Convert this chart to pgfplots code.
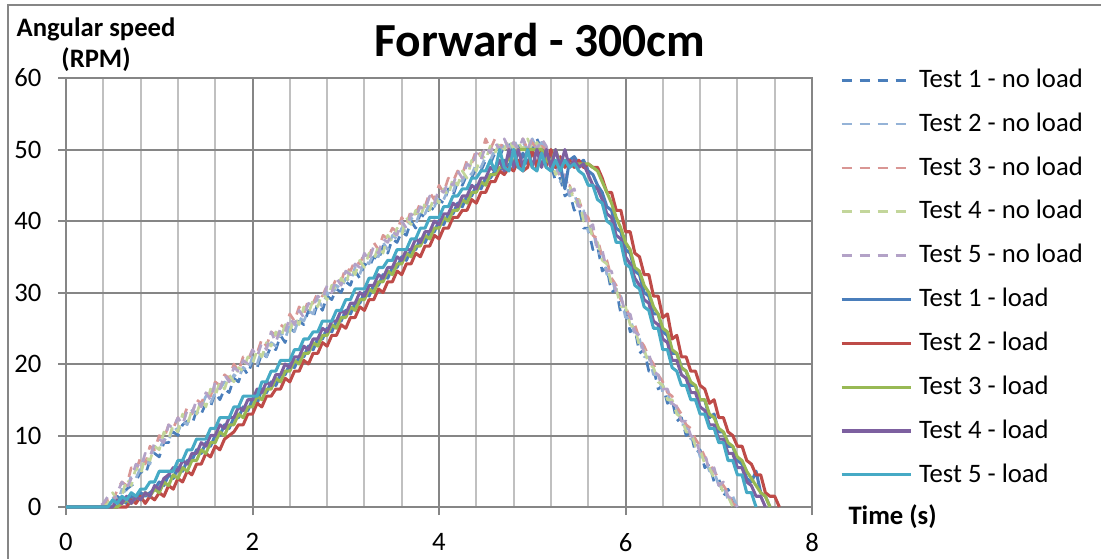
\documentclass[border=0pt]{standalone}
\usepackage{fontspec}
\setmainfont{Carlito}
\usepackage{pgfplots}
\usepackage{pgfplotstable}
\pgfplotsset{compat=1.18}

\definecolor{nlA}{HTML}{4A7EBB}
\definecolor{nlB}{HTML}{95B3D7}
\definecolor{nlC}{HTML}{D99694}
\definecolor{nlD}{HTML}{C3D69B}
\definecolor{nlE}{HTML}{B3A2C7}
\definecolor{ldA}{HTML}{4A7EBB}
\definecolor{ldB}{HTML}{BE4B48}
\definecolor{ldC}{HTML}{98B954}
\definecolor{ldD}{HTML}{7D60A0}
\definecolor{ldE}{HTML}{46AAC5}
\definecolor{gridmaj}{HTML}{868686}
\definecolor{gridmin}{HTML}{C0C0C0}

% Angular speed (RPM) against time (s), runs without load
\pgfplotstableread{
t n1 n2 n3 n4 n5
0 0 0 0 0 0
0.35 0 0 0 0 0
0.40 0 0 0 0 0.5
0.45 0 0 1 0.5 1.5
0.50 0.5 1.5 0.5 2 0.5
0.55 1.5 0.5 2.5 1 2
0.60 1 2.5 3.5 1.5 3.5
0.65 2.5 2 3 4 2.5
0.70 3 4.5 5.5 3 4
0.75 3.5 4 5 5.5 6
0.80 5 5.5 7 4.5 5.5
0.85 4.5 6.5 6 7 7.5
0.90 6.5 6 8.5 6.5 7
0.95 7.5 8.5 8 8.5 9
1.00 7 8 10 8 9.5
1.05 9 9.5 9.5 10.5 9
1.10 9 9 11.5 9.5 11.5
1.15 10.5 11.5 11 11.5 11
1.20 10 10.5 12.5 10.5 12.5
1.25 11.5 12 12 13 11.5
1.30 12 11.5 14 11.5 13.5
1.35 11.5 13.5 13 13.5 13
1.40 13.5 13 15 13 15
1.45 13 14 14.5 15 14
1.50 14.5 15.5 16 14 16
1.55 14 14.5 15.5 16.5 15
1.60 16 16 17.5 15.5 17.5
1.65 15 16.5 17 17.5 16.5
1.70 16.5 17.5 18.5 16.5 18.5
1.75 16 17 18 18.5 17.5
1.80 18 18.5 20 17.5 19.5
1.85 17.5 18 19 19.5 19
1.90 19.5 19.5 21 19 20.5
1.95 18.5 19 20.5 21 20
2.00 20.5 21 22 20 22
2.05 19.5 20 21.5 22 21
2.10 21.5 22 23.5 21 23
2.15 21 21 22.5 23 22
2.20 22.5 23 24.5 22.5 24.5
2.25 22 22.5 24 24.5 23
2.30 24 24.5 25.5 23.5 25
2.35 23 23.5 25 25.5 24.5
2.40 25 25.5 27 24.5 26.5
2.45 24.5 24.5 26 26.5 25.5
2.50 26 26.5 28 25.5 27.5
2.55 25.5 26 27 28 26.5
2.60 27.5 27.5 29 27 28.5
2.65 26.5 27 28.5 29 28
2.70 28.5 29 30 28 29.5
2.75 27.5 28 29.5 30 29
2.80 29.5 30 31 29 31
2.85 29 29.5 30.5 31 30
2.90 30.5 31 32 30.5 32
2.95 30 30.5 31.5 32 31
3.00 31.5 32 33.5 31 33
3.05 31 31.5 33 33.5 32.5
3.10 33 33.5 34.5 32.5 34
3.15 32 32.5 34 34.5 33.5
3.20 34 34.5 35.5 33.5 35.5
3.25 33.5 34 35 35.5 34.5
3.30 35 35.5 37 34.5 36.5
3.35 34.5 35 36 36.5 35.5
3.40 36.5 37 38 35.5 37.5
3.45 35.5 36 37.5 38 37
3.50 37.5 38 39 37 38.5
3.55 37 37.5 38.5 39 38
3.60 38.5 39 40.5 38 40
3.65 38 38.5 39.5 40.5 39
3.70 40 40.5 41.5 39.5 41
3.75 39 39.5 41 41.5 40.5
3.80 41 41.5 42.5 40.5 42
3.85 40.5 41 42 42.5 41.5
3.90 42 42.5 44 41.5 43.5
3.95 41.5 42 43 43.5 42.5
4.00 43 43.5 45 42.5 44.5
4.05 42.5 43 44 44.5 44
4.10 44.5 44.5 46 43.5 45.5
4.15 43.5 44 45.5 46 45
4.20 45.5 46 47 45 47
4.25 45 45.5 46.5 47 46
4.30 46.5 47 48.5 46 48
4.35 46 46.5 48 48.5 47.5
4.40 47.5 48 50 47 49.5
4.45 47 47.5 49 49.5 48.5
4.50 48.5 49 51.5 48.5 50.5
4.55 48 48.5 50 50.5 49.5
4.60 49.5 50 51.5 49.5 51
4.65 49 49.5 50 51 50
4.70 50.5 51 51.5 50 51.5
4.75 51 50 50 51.5 50
4.80 49.5 51.5 51 50 51
4.85 50.5 50 50 51 50
4.90 50 51 51.5 50 51.5
4.95 51 50 50 51.5 50
5.00 50 51.5 51 50 51.5
5.05 51.5 50 50 51 50
5.10 50 51 50.5 50 51.5
5.15 48 50 50 49 50.5
5.20 48 47.5 49 48.5 48
5.25 45.5 48 47 46.5 48.5
5.30 46 45.5 47 47 46
5.35 43.5 46 45 44.5 46.5
5.40 44 43.5 45 45 44
5.45 41.5 44 43 42.5 44.5
5.50 42 41.5 43 43 42
5.55 39 41.5 41 40 42
5.60 39 38.5 40.5 40 39
5.65 36 39 38 37.5 39.5
5.70 36.5 35.5 37.5 37 36
5.75 33 35.5 35 34.5 36
5.80 33.5 32.5 34.5 34 33
5.85 30 32.5 32 31 33
5.90 30.5 29.5 31 30.5 30
5.95 27 29.5 29 28 29.5
6.00 27.5 26.5 28 28 27
6.05 24.5 26.5 26.5 25.5 27
6.10 25 24 25.5 25 24.5
6.15 21.5 23.5 23.5 22.5 24
6.20 22 21 22.5 22 21.5
6.25 19 21 21 20 21.5
6.30 19.5 18.5 20 19.5 19
6.35 16.5 18.5 18.5 17.5 18.5
6.40 17 16 17.5 17 16.5
6.45 14.5 16 16 15 16.5
6.50 15 14 15.5 15 14.5
6.55 12 14 14 13 14
6.60 12.5 11.5 13 12.5 12
6.65 10 11.5 11.5 10.5 12
6.70 10.5 9.5 11 10.5 10
6.75 7.5 9.5 9.5 8.5 9.5
6.80 8 7 8.5 8 7.5
6.85 5.5 7 7 6 7.5
6.90 6 5 6 5.5 5
6.95 3.5 5 5 4 5.5
7.00 4 3 4 3.5 3
7.05 1.5 3 3 2 3.5
7.10 2.5 1 2 1.5 1.5
7.15 1 1.5 0.5 0 1
7.20 0 0 0 nan 0
}\noload

% Angular speed (RPM) against time (s), runs with load
\pgfplotstableread{
t l1 l2 l3 l4 l5
0 0 0 0 0 0
0.35 0 0 0 0 0
0.40 0 0 0 0 0
0.45 0 0 0 0 0
0.50 0 0 0 0 1
0.55 0 0 0 1 0.5
0.60 1 0 0.5 0.5 1.5
0.65 0.5 0 1 1.5 1
0.70 1.5 1 0.5 0.5 2
0.75 1 0.5 1.5 1.5 1.5
0.80 2 1.5 1 1 2.5
0.85 1.5 0.5 2 2 2.5
0.90 2 1.5 1.5 1.5 3.5
0.95 2.5 1 2.5 3 3.5
1.00 3.5 2 2 2.5 5
1.05 3 1.5 3.5 4 5
1.10 4.5 3 3 4.5 5
1.15 4 2.5 4.5 5.5 5
1.20 5.5 4 4 5 6.5
1.25 5 3.5 5.5 6.5 6.5
1.30 6.5 5 5 6 8
1.35 6.5 4.5 6.5 7.5 8
1.40 8 6 6.5 7.5 9.5
1.45 7.5 6 8 9 9.5
1.50 9 7.5 7.5 8.5 9.5
1.55 8.5 7 9 10 11
1.60 10 8.5 9 10 11
1.65 10 8 10.5 11.5 12.5
1.70 11.5 9.5 10 11 12.5
1.75 11 10 11.5 12.5 12.5
1.80 12.5 10.5 11.5 12.5 14
1.85 12.5 11.5 13 14 14
1.90 14 11.5 12.5 13.5 15.5
1.95 13.5 13 14 15 15.5
2.00 15 13 14 15 15.5
2.05 14.5 14.5 15.5 16.5 15.5
2.10 16.5 14 15 16 17.5
2.15 16 15.5 16.5 17.5 17.5
2.20 17.5 15.5 16.5 17 19
2.25 17 16.5 18 18.5 19
2.30 18.5 16.5 17.5 18.5 20.5
2.35 18.5 18 19 20 20.5
2.40 20 17.5 19 19.5 20.5
2.45 19.5 19 20.5 21 22
2.50 21 19 20 21 22
2.55 21 20.5 21.5 22.5 23.5
2.60 22.5 20 21.5 22 23.5
2.65 22 21.5 23 23.5 24.5
2.70 23.5 21.5 22.5 23.5 24.5
2.75 23.5 23 24 25 26
2.80 25 22.5 24 24.5 26
2.85 24.5 24 25.5 26 26
2.90 26 24 25 26 27.5
2.95 26 25.5 26.5 27.5 27.5
3.00 27.5 25 26.5 27 29
3.05 27 26.5 28 28.5 29
3.10 28.5 26.5 27.5 28.5 30.5
3.15 28.5 28 29 30 30.5
3.20 30 27.5 29 29.5 30.5
3.25 29.5 29 30.5 31 32
3.30 31 29 30 31 32
3.35 31 30.5 31.5 32.5 33.5
3.40 32.5 30 31.5 32 33.5
3.45 32 31.5 33 33.5 34.5
3.50 33.5 31.5 32.5 33.5 34.5
3.55 33.5 33 34 35 36
3.60 35 32.5 34 34.5 36
3.65 34.5 34 35.5 36 36
3.70 36 34 35 36 37.5
3.75 36 35.5 36.5 37.5 37.5
3.80 37.5 35 36.5 37 39
3.85 37 36.5 38 38.5 39
3.90 38.5 36.5 37.5 38.5 40.5
3.95 38.5 38 39 40 40.5
4.00 40 37.5 39 39.5 40.5
4.05 39.5 39 40.5 41 42
4.10 41 39 40 41 42
4.15 41 40.5 41.5 42.5 43.5
4.20 42.5 40.5 41.5 42 43.5
4.25 42 41.5 43 43.5 44.5
4.30 43.5 41.5 42.5 43.5 44.5
4.35 43.5 43 44 45 46
4.40 45 42.5 44 44.5 46
4.45 44.5 44 45.5 46 47
4.50 46 44 45 46 47
4.55 46 45.5 46.5 47.5 48.5
4.60 47 45.5 46.5 47 47
4.65 47 47 47.5 48.5 50
4.70 48.5 46.5 47.5 47 47.5
4.75 47.5 47.5 49 50 47
4.80 50 47 48 47.5 50
4.85 47.5 48.5 50 50 47.5
4.90 49.5 47 50 47.5 47
4.95 48 47.5 50 50 50
5.00 50 50 50 47.5 47.5
5.05 47.5 47.5 50 50 47
5.10 50 50 50 47.5 49.5
5.15 48 47.5 48.5 50 47.5
5.20 49.5 50 48 47.5 47
5.25 47.5 47.5 50 50 48.5
5.30 48 49 48 47.5 47
5.35 44.5 47.5 48.5 50 48.5
5.40 48.5 48.5 48 47.5 47.5
5.45 49 47.5 48 48.5 48
5.50 48 48.5 48 47.5 47
5.55 48.5 47.5 48 48 46.5
5.60 47 48 48 46.5 45
5.65 46.5 47.5 47.5 45 45
5.70 45 47.5 47 44.5 43
5.75 44 46 45.5 43 42.5
5.80 42 44 44 41 40
5.85 41.5 44 42.5 40.5 39.5
5.90 39 41.5 40.5 38 37
5.95 38.5 41.5 39 37.5 37
6.00 36 38.5 37 35 34
6.05 35.5 38.5 36 34 33.5
6.10 33 35.5 33.5 32 31
6.15 32.5 35 33 31 30.5
6.20 30 32.5 31 29 28
6.25 29.5 32.5 30 28.5 27.5
6.30 27 29.5 28 26 25
6.35 27 29.5 27 25.5 25
6.40 24.5 26.5 25 23.5 22
6.45 24 27 24.5 23 22
6.50 21.5 23.5 22 20.5 19.5
6.55 21.5 24 21.5 20.5 19
6.60 19.5 21 19.5 18.5 17
6.65 19 21 19 18 17
6.70 17 19 17.5 16 15
6.75 17 19 17 16 15
6.80 15 17 15 14 13
6.85 15 16.5 15 13.5 13
6.90 12.5 14.5 13 11.5 11
6.95 13 15 12.5 11.5 11
7.00 10.5 12.5 11 9.5 9
7.05 10.5 12.5 10.5 9.5 9
7.10 8.5 10.5 9 7.5 6.5
7.15 8.5 10 8.5 7.5 6.5
7.20 6.5 8.5 7 5.5 4.5
7.25 6 8.5 6.5 5.5 4.5
7.30 4 6.5 5 3.5 2
7.35 3.5 6 4 3 2
7.40 5 4.5 3 1.5 0
7.45 2 4.5 2 1.5 nan
7.50 1.5 2 1.5 0 nan
7.55 0 1.5 0 nan nan
7.60 nan 1.5 nan nan nan
7.65 nan 0 nan nan nan
}\withload

\begin{document}
\begin{tikzpicture}
\path[use as bounding box] (0,0) rectangle (412.875pt,209.25pt);
% outer chart frame
\draw[gridmaj, line width=0.75pt] (3pt,-1pt) -- (3pt,207.4pt) -- (414pt,207.4pt);
\begin{axis}[
  at={(24.75pt,19.125pt)}, anchor=south west,
  scale only axis, width=279.75pt, height=160.875pt,
  xmin=0, xmax=8, ymin=0, ymax=60,
  xtick={0,2,4,6,8}, ytick={0,10,20,30,40,50,60},
  minor x tick num=4,
  xmajorgrids, ymajorgrids, xminorgrids,
  major grid style={gridmaj, line width=0.75pt},
  minor grid style={gridmin, line width=0.75pt},
  axis line style={gridmaj, line width=0.75pt},
  tick pos=left, tick align=outside,
  major tick length=3pt, minor tick length=0pt,
  tick style={gridmaj, line width=0.75pt},
  /pgf/number format/assume math mode=true,
  xticklabel style={yshift=-3.4pt},
  yticklabel style={xshift=-2.7pt},
  clip=false,
  legend image code/.code={\draw[#1] (0pt,0pt) -- (25.9pt,0pt); \path (28.5pt,0pt);},
  legend style={at={(1.0375,1.0212)}, anchor=north west, draw=none, fill=none,
    inner sep=0pt, outer sep=0pt, row sep=8pt, nodes={inner sep=0pt},
    cells={anchor=west}, font=\normalsize},
  nl/.style={line width=1pt, dash pattern=on 3.75pt off 3pt, line join=round},
  ld/.style={line width=1.15pt, line join=round},
]
\addplot[nl, nlA] table[x=t, y=n1] {\noload};
\addlegendentry{Test 1 - no load}
\addplot[nl, nlB] table[x=t, y=n2] {\noload};
\addlegendentry{Test 2 - no load}
\addplot[nl, nlC] table[x=t, y=n3] {\noload};
\addlegendentry{Test 3 - no load}
\addplot[nl, nlD] table[x=t, y=n4] {\noload};
\addlegendentry{Test 4 - no load}
\addplot[nl, nlE] table[x=t, y=n5] {\noload};
\addlegendentry{Test 5 - no load}
\addplot[ld, ldA] table[x=t, y=l1] {\withload};
\addlegendentry{Test 1 - load}
\addplot[ld, ldB] table[x=t, y=l2] {\withload};
\addlegendentry{Test 2 - load}
\addplot[ld, ldC] table[x=t, y=l3] {\withload};
\addlegendentry{Test 3 - load}
\addplot[ld, ldD] table[x=t, y=l4] {\withload};
\addlegendentry{Test 4 - load}
\addplot[ld, ldE] table[x=t, y=l5] {\withload};
\addlegendentry{Test 5 - load}
\end{axis}
\node[anchor=base, inner sep=0pt, font=\fontsize{17.8}{20}\selectfont\bfseries] at (202.5pt,187.9pt) {Forward - 300cm};
\node[anchor=base, inner sep=0pt, font=\bfseries] at (36pt,195.4pt) {Angular speed};
\node[anchor=base, inner sep=0pt, font=\bfseries] at (36pt,183.75pt) {(RPM)};
\node[anchor=base west, inner sep=0pt, font=\bfseries] at (318pt,12.75pt) {Time (s)};
\end{tikzpicture}
\end{document}
